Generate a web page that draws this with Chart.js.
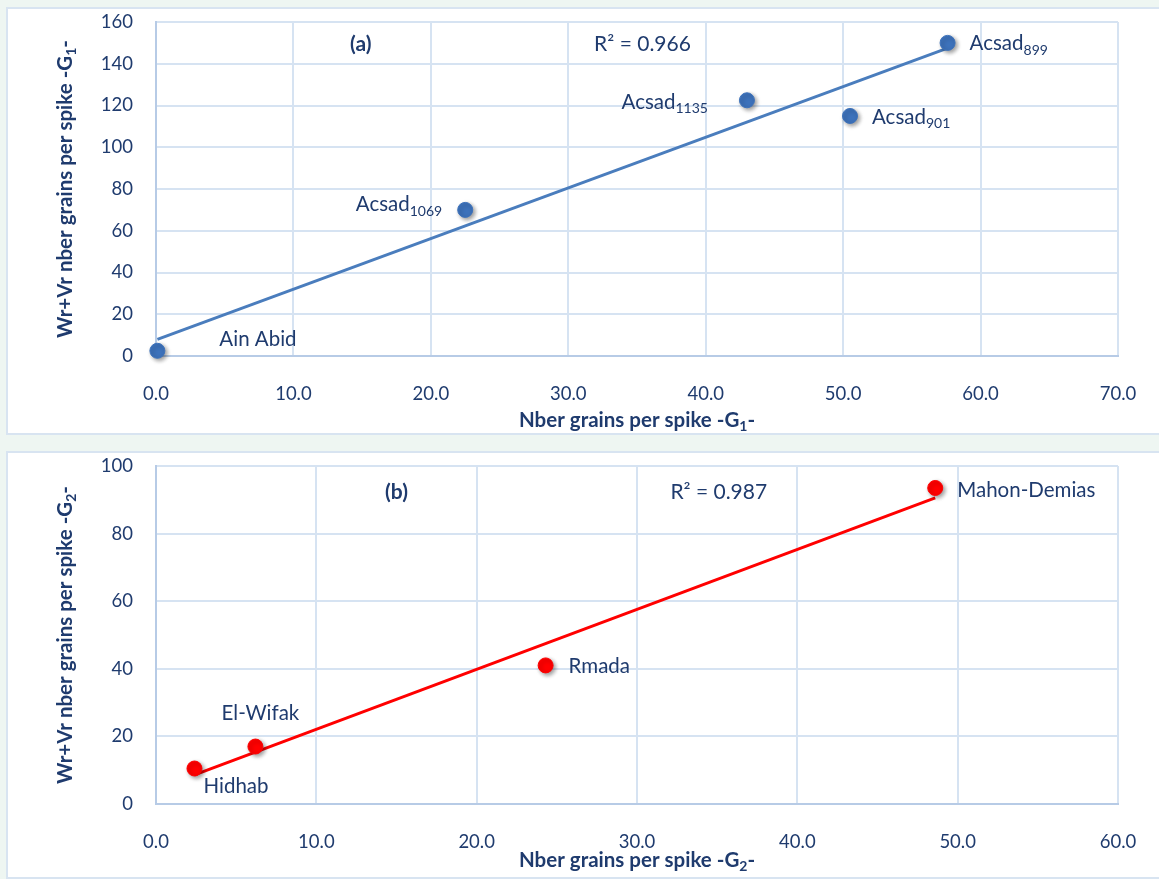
<!DOCTYPE html>
<html>
<head>
<meta charset="utf-8">
<script src="https://cdn.jsdelivr.net/npm/chart.js@4.4.0/dist/chart.umd.min.js"></script>
<style>
  html, body { margin: 0; padding: 0; }
  body { width: 1159px; height: 879px; background: #eef6f2; position: relative; overflow: hidden; font-family: Lato, sans-serif; }
  .panel { position: absolute; left: 6px; width: 1160px; height: 428px; box-sizing: border-box;
           border: 2px solid #d8e4f1; background: #ffffff; }
  .panel canvas { position: absolute; left: 0; top: 0; }
  #panel-a { top: 7px; }
  #panel-b { top: 451px; }
</style>
</head>
<body>
<div class="panel" id="panel-a"><div style="position:absolute;left:0;top:0;width:1156px;height:424px"><canvas id="chart-g1"></canvas></div></div>
<div class="panel" id="panel-b"><div style="position:absolute;left:0;top:0;width:1156px;height:424px"><canvas id="chart-g2"></canvas></div></div>
<script>
// G1 genotypes
const g1Names = ['Ain Abid', 'Acsad', 'Acsad', 'Acsad', 'Acsad'];
const g1Subs = ['', '1069', '1135', '901', '899'];
const g1X = [0.1, 22.5, 43.0, 50.5, 57.6];
const g1Y = [2.5, 70, 122.5, 115, 150];
const g1R2 = '0.966';
const g1XTicks = [0, 10, 20, 30, 40, 50, 60, 70];
const g1YTicks = [0, 20, 40, 60, 80, 100, 120, 140, 160];

// G2 genotypes
const g2Names = ['Hidhab', 'El-Wifak', 'Rmada', 'Mahon-Demias'];
const g2Subs = ['', '', '', ''];
const g2X = [2.4, 6.2, 24.3, 48.6];
const g2Y = [10.5, 17, 41, 93.5];
const g2R2 = '0.987';
const g2XTicks = [0, 10, 20, 30, 40, 50, 60];
const g2YTicks = [0, 20, 40, 60, 80, 100];

const TEXT = '#1f3b6e';
const FONT = 'Lato, sans-serif';

// least squares fit drawn between the smallest and largest x
function fitLine(xs, ys) {
    const n = xs.length;
    const mx = xs.reduce((a, b) => a + b, 0) / n;
    const my = ys.reduce((a, b) => a + b, 0) / n;
    let sxy = 0, sxx = 0;
    for (let i = 0; i < n; i++) {
        sxy += (xs[i] - mx) * (ys[i] - my);
        sxx += (xs[i] - mx) * (xs[i] - mx);
    }
    const b = sxy / sxx, a = my - b * mx;
    const x0 = Math.min(...xs), x1 = Math.max(...xs);
    return [{x: x0, y: a + b * x0}, {x: x1, y: a + b * x1}];
}

// text with optional subscript parts: [[text, isSub], ...]
function drawRich(ctx, parts, x, y, align, size, weight) {
    const subSize = Math.round(size * 0.66);
    let w = 0;
    parts.forEach(p => {
        ctx.font = weight + ' ' + (p[1] ? subSize : size) + 'px ' + FONT;
        w += ctx.measureText(p[0]).width;
    });
    let cx = align === 'left' ? x : align === 'right' ? x - w : x - w / 2;
    ctx.textAlign = 'left';
    ctx.textBaseline = 'middle';
    parts.forEach(p => {
        ctx.font = weight + ' ' + (p[1] ? subSize : size) + 'px ' + FONT;
        ctx.fillText(p[0], cx, p[1] ? y + size * 0.32 : y);
        cx += ctx.measureText(p[0]).width;
    });
}

function labelPlugin(names, subs, offsets, notes, gSub, titleGap) {
    return {
        id: 'labels',
        beforeDatasetDraw(chart, args) {
            if (args.index !== 0) return;
            const ctx = chart.ctx;
            ctx.save();
            ctx.shadowColor = 'rgba(0,0,0,0.4)';
            ctx.shadowBlur = 4;
            ctx.shadowOffsetX = 2;
            ctx.shadowOffsetY = 2;
        },
        afterDatasetDraw(chart, args) {
            if (args.index !== 0) return;
            chart.ctx.restore();
        },
        afterDraw(chart) {
            const ctx = chart.ctx;
            const xs = chart.scales.x, ys = chart.scales.y, area = chart.chartArea;
            ctx.save();
            ctx.fillStyle = TEXT;
            chart.getDatasetMeta(0).data.forEach((pt, i) => {
                const o = offsets[i];
                const parts = [[names[i], false]];
                if (subs[i]) parts.push([subs[i], true]);
                drawRich(ctx, parts, pt.x + o[0], pt.y + o[1], o[2], 20.5, 'normal');
            });
            notes.forEach(n => {
                drawRich(ctx, n.parts, xs.getPixelForValue(n.x), ys.getPixelForValue(n.y), 'center', 21, n.bold ? 'bold' : 'normal');
            });
            // axis titles
            drawRich(ctx, [['Nber grains per spike -G', false], [gSub, true], ['-', false]],
                (area.left + area.right) / 2, area.bottom + titleGap, 'center', 20.5, 'bold');
            ctx.translate(57, (area.top + area.bottom) / 2);
            ctx.rotate(-Math.PI / 2);
            drawRich(ctx, [['Wr+Vr nber grains per spike -G', false], [gSub, true], ['-', false]],
                0, 0, 'center', 20.5, 'bold');
            ctx.restore();
        }
    };
}

function makeChart(id, xs, ys, color, lineColor, xTicks, yTicks, xHeight, plugin) {
    const pts = xs.map((x, i) => ({x: x, y: ys[i]}));
    return new Chart(document.getElementById(id), {
        type: 'scatter',
        data: {
            datasets: [{
                data: pts,
                backgroundColor: color,
                borderColor: color,
                pointRadius: 7.5,
                pointHoverRadius: 7.5,
                clip: false
            }, {
                type: 'line',
                data: fitLine(xs, ys),
                borderColor: lineColor,
                borderWidth: 3,
                pointRadius: 0,
                fill: false
            }]
        },
        options: {
            responsive: true,
            maintainAspectRatio: false,
            animation: false,
            layout: { padding: { top: 13, right: 46, left: 0, bottom: 0 } },
            plugins: { legend: { display: false }, tooltip: { enabled: false } },
            scales: {
                x: {
                    type: 'linear',
                    min: xTicks[0],
                    max: xTicks[xTicks.length - 1],
                    afterBuildTicks: s => { s.ticks = xTicks.map(v => ({value: v})); },
                    afterFit: s => { s.height = xHeight; s.paddingLeft = 0; s.paddingRight = 0; },
                    grid: { color: '#d6e3f2', lineWidth: 2, drawTicks: false },
                    border: { color: '#b7cbe6', width: 2 },
                    ticks: {
                        padding: 27,
                        color: TEXT,
                        font: { family: FONT, size: 18.5 },
                        callback: v => v.toFixed(1)
                    }
                },
                y: {
                    min: yTicks[0],
                    max: yTicks[yTicks.length - 1],
                    afterBuildTicks: s => { s.ticks = yTicks.map(v => ({value: v})); },
                    afterFit: s => { s.width = 148; s.paddingTop = 0; s.paddingBottom = 0; },
                    grid: { color: '#d6e3f2', lineWidth: 2, drawTicks: false },
                    border: { color: '#b7cbe6', width: 2 },
                    ticks: {
                        padding: 23,
                        color: TEXT,
                        font: { family: FONT, size: 18.5 }
                    }
                }
            }
        },
        plugins: [plugin]
    });
}

makeChart('chart-g1', g1X, g1Y, '#3d72bb', '#4a7dbd', g1XTicks, g1YTicks, 77,
    labelPlugin(g1Names, g1Subs,
        [[62, -11, 'left'], [-23, -5, 'right'], [-39, 2, 'right'], [22, 1, 'left'], [22, 1, 'left']],
        [{parts: [['(a)', false]], x: 14.9, y: 149.5, bold: true},
         {parts: [['R² = ' + g1R2, false]], x: 35.4, y: 149.5}], '1', 64));

makeChart('chart-g2', g2X, g2Y, '#ff0000', '#ff0000', g2XTicks, g2YTicks, 73,
    labelPlugin(g2Names, g2Subs,
        [[9, 18, 'left'], [5, -33, 'center'], [23, 1, 'left'], [22, 2, 'left']],
        [{parts: [['(b)', false]], x: 15.0, y: 92.3, bold: true},
         {parts: [['R² = ' + g2R2, false]], x: 35.1, y: 92.3}], '2', 56));
</script>
</body>
</html>
